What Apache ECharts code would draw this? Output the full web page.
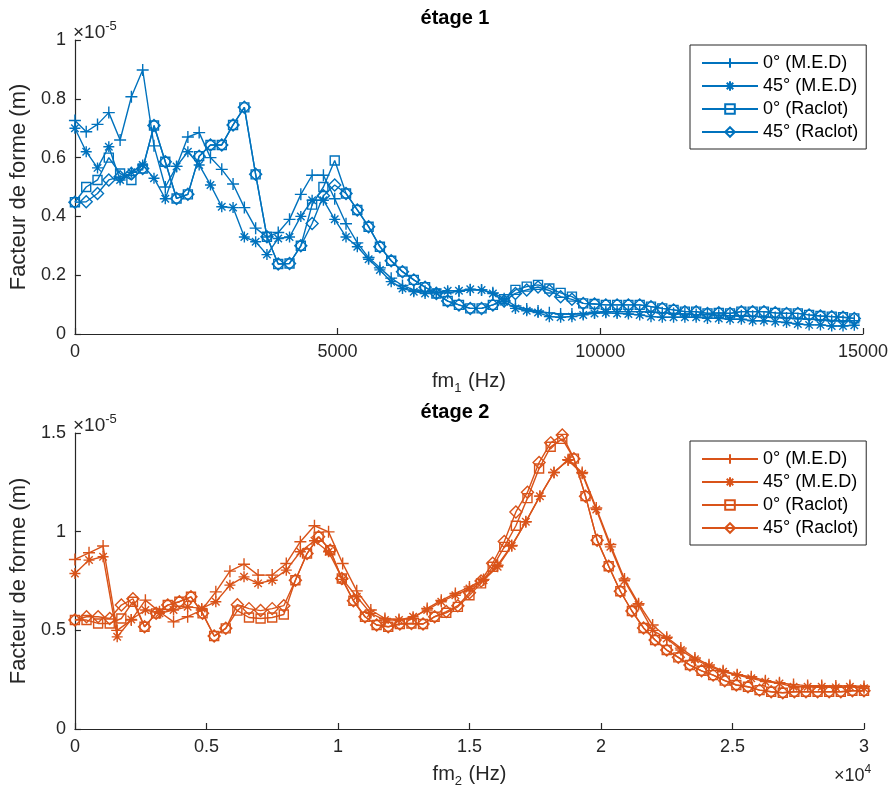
<!DOCTYPE html>
<html><head><meta charset="utf-8">
<script src="https://cdn.jsdelivr.net/npm/echarts@6/dist/echarts.min.js"></script>
<style>html,body{margin:0;padding:0;background:#fff}#c{width:891px;height:796px}</style>
</head><body><div id="c"></div>
<script>
// ---------- DATA (amplitudes in units of 1e-5 m) ----------
const xTop = [0,215,430,645,860,1075,1290,1505,1720,1935,2150,2365,2580,2795,3010,3225,3440,3655,3870,4085,4300,4515,4730,4945,5160,5375,5590,5805,6020,6235,6450,6665,6880,7095,7310,7525,7740,7955,8170,8385,8600,8815,9030,9245,9460,9675,9890,10105,10320,10535,10750,10965,11180,11395,11610,11825,12040,12255,12470,12685,12900,13115,13330,13545,13760,13975,14190,14405,14620,14835];

const top_0_MED = [0.726,0.688,0.713,0.753,0.66,0.807,0.898,0.64,0.50,0.57,
 0.67,0.685,0.60,0.56,0.51,0.43,0.36,0.33,0.345,0.39,
 0.475,0.54,0.54,0.46,0.375,0.31,0.26,0.225,0.19,0.165,
 0.15,0.145,0.14,0.14,0.145,0.15,0.15,0.14,0.12,0.095,
 0.085,0.078,0.072,0.068,0.068,0.07,0.074,0.076,0.076,0.076,
 0.076,0.074,0.072,0.07,0.068,0.066,0.066,0.064,0.062,0.062,
 0.06,0.058,0.056,0.054,0.052,0.05,0.048,0.046,0.045,0.045];

const top_45_MED = [0.70,0.62,0.565,0.637,0.524,0.55,0.575,0.53,0.46,0.57,
 0.62,0.575,0.507,0.433,0.43,0.33,0.314,0.27,0.325,0.33,
 0.40,0.455,0.455,0.39,0.33,0.297,0.254,0.218,0.178,0.155,
 0.144,0.138,0.141,0.147,0.147,0.152,0.15,0.138,0.11,0.087,
 0.079,0.073,0.059,0.057,0.059,0.065,0.07,0.072,0.07,0.068,
 0.065,0.059,0.057,0.057,0.057,0.057,0.053,0.053,0.05,0.05,
 0.045,0.045,0.042,0.039,0.034,0.031,0.031,0.027,0.027,0.03];

const top_0_Raclot = [0.448,0.50,0.524,0.60,0.546,0.524,0.563,0.709,0.586,0.461,
 0.475,0.605,0.643,0.643,0.711,0.771,0.543,0.331,0.238,0.24,
 0.30,0.44,0.50,0.59,0.478,0.422,0.365,0.297,0.249,0.212,
 0.184,0.159,0.138,0.112,0.099,0.087,0.087,0.099,0.118,0.15,
 0.161,0.167,0.155,0.14,0.127,0.104,0.102,0.099,0.099,0.099,
 0.099,0.093,0.087,0.082,0.076,0.076,0.07,0.072,0.07,0.076,
 0.076,0.076,0.072,0.07,0.07,0.065,0.061,0.059,0.057,0.053];

const top_45_Raclot = [0.448,0.45,0.478,0.524,0.535,0.546,0.563,0.709,0.586,0.461,
 0.475,0.605,0.643,0.643,0.711,0.771,0.543,0.331,0.238,0.24,
 0.30,0.376,0.47,0.507,0.478,0.422,0.365,0.297,0.249,0.212,
 0.184,0.159,0.138,0.112,0.099,0.087,0.087,0.099,0.112,0.138,
 0.15,0.16,0.148,0.127,0.118,0.104,0.102,0.099,0.099,0.099,
 0.099,0.093,0.087,0.082,0.076,0.076,0.07,0.072,0.07,0.076,
 0.076,0.076,0.072,0.07,0.07,0.065,0.061,0.059,0.057,0.053];

const xBotMED = [0,536,1071,1607,2143,2679,3214,3750,4286,4821,5357,5893,6429,6964,7500,8036,8571,9107,9643,10179,10714,11250,11786,12321,12857,13393,13929,14464,15000,15536,16071,16607,17143,17679,18214,18750,19286,19821,20357,20893,21429,21964,22500,23036,23571,24107,24643,25179,25714,26250,26786,27321,27857,28393,28929,29464,30000];

const xBotRaclot = [0,441,882,1324,1765,2206,2647,3088,3529,3971,4412,4853,5294,5735,6176,6618,7059,7500,7941,8382,8824,9265,9706,10147,10588,11029,11471,11912,12353,12794,13235,13676,14118,14559,15000,15441,15882,16324,16765,17206,17647,18088,18529,18971,19412,19853,20294,20735,21176,21618,22059,22500,22941,23382,23824,24265,24706,25147,25588,26029,26471,26912,27353,27794,28235,28676,29118,29559,30000];

const bot_0_MED = [0.859,0.893,0.927,0.50,0.552,0.653,0.594,0.543,0.569,0.603,
 0.695,0.80,0.835,0.78,0.78,0.839,0.949,1.03,0.999,0.839,
 0.70,0.603,0.56,0.555,0.56,0.611,0.652,0.687,0.72,0.758,
 0.83,0.93,1.05,1.18,1.30,1.365,1.30,1.12,0.935,0.76,
 0.635,0.527,0.465,0.41,0.36,0.325,0.295,0.275,0.265,0.245,
 0.235,0.225,0.22,0.22,0.218,0.22,0.215];

const bot_45_MED = [0.788,0.856,0.873,0.467,0.555,0.603,0.586,0.603,0.619,0.611,
 0.645,0.729,0.771,0.738,0.754,0.805,0.898,0.954,0.898,0.758,
 0.67,0.586,0.552,0.552,0.569,0.603,0.645,0.678,0.712,0.754,
 0.822,0.927,1.05,1.18,1.30,1.362,1.294,1.112,0.923,0.751,
 0.628,0.50,0.459,0.40,0.353,0.319,0.29,0.273,0.257,0.24,
 0.231,0.214,0.214,0.214,0.211,0.214,0.206];

const bot_0_Raclot = [0.552,0.552,0.535,0.535,0.56,0.645,0.518,0.586,0.628,0.645,
 0.67,0.586,0.471,0.51,0.60,0.565,0.56,0.565,0.58,0.754,
 0.889,0.974,0.906,0.763,0.65,0.569,0.527,0.518,0.532,0.535,
 0.532,0.569,0.589,0.619,0.678,0.738,0.822,0.923,1.03,1.17,
 1.32,1.43,1.47,1.37,1.18,0.957,0.825,0.698,0.598,0.512,
 0.451,0.40,0.363,0.324,0.295,0.273,0.245,0.223,0.214,0.197,
 0.189,0.184,0.189,0.189,0.189,0.189,0.189,0.194,0.194];

const bot_45_Raclot = [0.552,0.569,0.569,0.56,0.628,0.66,0.518,0.586,0.628,0.645,
 0.67,0.586,0.471,0.51,0.63,0.61,0.60,0.61,0.625,0.754,
 0.889,0.974,0.906,0.763,0.65,0.569,0.527,0.518,0.532,0.535,
 0.532,0.569,0.595,0.625,0.69,0.75,0.84,0.95,1.10,1.20,
 1.35,1.45,1.49,1.37,1.18,0.957,0.825,0.698,0.598,0.512,
 0.451,0.40,0.363,0.324,0.295,0.273,0.245,0.223,0.214,0.197,
 0.189,0.184,0.189,0.189,0.189,0.189,0.189,0.194,0.194];

const legendNames = ['0° (M.E.D)', '45° (M.E.D)', '0° (Raclot)', '45° (Raclot)'];
const topTicksX = [0, 5000, 10000, 15000];
const botTicksX = [0, 0.5, 1, 1.5, 2, 2.5, 3];

// ---------- STYLE ----------
const BLUE = '#0072BD', ORANGE = '#D95319', AX = '#262626';
const FONT = '"Liberation Sans", Arial, Helvetica, sans-serif';
const SYM_PLUS = 'path://M5,0L5,10M0,5L10,5';
const SYM_STAR = 'path://M5,0L5,10M0,5L10,5M1.6,1.6L8.4,8.4M1.6,8.4L8.4,1.6';
const symbols = [SYM_PLUS, SYM_STAR, 'rect', 'diamond'];
const sizes = [12, 11, 9, 12];

function pairs(xs, ys) { return xs.map((x, i) => [x, ys[i]]); }
function mk(name, xs, ys, color, k, gi) {
  return {
    name, type: 'line', xAxisIndex: gi, yAxisIndex: gi,
    data: pairs(xs, ys), symbol: symbols[k], symbolSize: sizes[k], symbolKeepAspect: true,
    showAllSymbol: true, animation: false, silent: true,
    lineStyle: { color, width: 1.4 },
    itemStyle: { color: 'rgba(255,255,255,0)', borderColor: color, borderWidth: 1.4 },
    emphasis: { disabled: true }
  };
}
const sp = ' '; // suffix to keep bottom-plot series distinct for the second legend
const series = [
  mk(legendNames[0], xTop, top_0_MED, BLUE, 0, 0),
  mk(legendNames[1], xTop, top_45_MED, BLUE, 1, 0),
  mk(legendNames[2], xTop, top_0_Raclot, BLUE, 2, 0),
  mk(legendNames[3], xTop, top_45_Raclot, BLUE, 3, 0),
  mk(legendNames[0] + sp, xBotMED, bot_0_MED, ORANGE, 0, 1),
  mk(legendNames[1] + sp, xBotMED, bot_45_MED, ORANGE, 1, 1),
  mk(legendNames[2] + sp, xBotRaclot, bot_0_Raclot, ORANGE, 2, 1),
  mk(legendNames[3] + sp, xBotRaclot, bot_45_Raclot, ORANGE, 3, 1)
];

const axisCommon = {
  axisLine: { show: true, lineStyle: { color: AX, width: 1.2 } },
  axisTick: { show: true, inside: true, length: 6, lineStyle: { color: AX, width: 1.2 } },
  splitLine: { show: false },
  axisLabel: { fontFamily: FONT, fontSize: 18, color: AX, margin: 9 },
  nameTextStyle: { fontFamily: FONT, fontSize: 21, color: AX }
};
const fmt = v => String(parseFloat(v.toFixed(3)));

function legend(top, names) {
  return {
    left: 690, top, orient: 'vertical', data: names, selectedMode: false,
    itemWidth: 56, itemHeight: 12, itemGap: 5, padding: [9, 8, 8, 11],
    borderColor: AX, borderWidth: 1, backgroundColor: '#fff',
    formatter: n => n.trim(),
    textStyle: { fontFamily: FONT, fontSize: 18, color: '#000', lineHeight: 18 }
  };
}

const chart = echarts.init(document.getElementById('c'));
chart.setOption({
  backgroundColor: '#fff',
  animation: false,
  grid: [
    { left: 71, top: 40, width: 793, height: 294 },
    { left: 71, top: 433, width: 793, height: 296 }
  ],
  xAxis: [
    Object.assign({}, axisCommon, {
      type: 'value', gridIndex: 0, min: topTicksX[0], max: topTicksX[topTicksX.length - 1], interval: 5000,
      name: '{a|fm}{s|1}{a| (Hz)}', nameLocation: 'middle', nameGap: 34,
      nameTextStyle: { rich: { a: { fontFamily: FONT, fontSize: 20, color: AX }, s: { fontFamily: FONT, fontSize: 13, color: AX, padding: [14, 1, 0, 0] } } },
      axisLabel: Object.assign({}, axisCommon.axisLabel, { formatter: fmt })
    }),
    Object.assign({}, axisCommon, {
      type: 'value', gridIndex: 1, min: 0, max: 30000, interval: 5000,
      name: '{a|fm}{s|2}{a| (Hz)}', nameLocation: 'middle', nameGap: 32,
      nameTextStyle: { rich: { a: { fontFamily: FONT, fontSize: 20, color: AX }, s: { fontFamily: FONT, fontSize: 13, color: AX, padding: [14, 1, 0, 0] } } },
      axisLabel: Object.assign({}, axisCommon.axisLabel, { formatter: v => fmt(v / 10000) })
    })
  ],
  yAxis: [
    Object.assign({}, axisCommon, {
      type: 'value', gridIndex: 0, min: 0, max: 1, interval: 0.2,
      name: 'Facteur de forme (m)', nameLocation: 'middle', nameGap: 38,
      nameTextStyle: { fontFamily: FONT, fontSize: 22, color: AX },
      axisLabel: Object.assign({}, axisCommon.axisLabel, { formatter: fmt })
    }),
    Object.assign({}, axisCommon, {
      type: 'value', gridIndex: 1, min: 0, max: 1.5, interval: 0.5,
      name: 'Facteur de forme (m)', nameLocation: 'middle', nameGap: 38,
      nameTextStyle: { fontFamily: FONT, fontSize: 22, color: AX },
      axisLabel: Object.assign({}, axisCommon.axisLabel, { formatter: fmt })
    })
  ],
  legend: [
    legend(45, legendNames),
    legend(441, legendNames.map(n => n + sp))
  ],
  graphic: [
    { type: 'text', x: 455, y: 18, style: { text: 'étage 1', font: 'bold 20px ' + FONT, fill: '#000', textAlign: 'center', textVerticalAlign: 'middle' } },
    { type: 'text', x: 455, y: 412, style: { text: 'étage 2', font: 'bold 20px ' + FONT, fill: '#000', textAlign: 'center', textVerticalAlign: 'middle' } },
    { type: 'text', x: 73, y: 20, style: { text: '{a|×10}{b|-5}', rich: { a: { fontFamily: FONT, fontSize: 19, fill: AX }, b: { fontFamily: FONT, fontSize: 13, fill: AX, padding: [0, 0, 12, 0] } } } },
    { type: 'text', x: 73, y: 413, style: { text: '{a|×10}{b|-5}', rich: { a: { fontFamily: FONT, fontSize: 19, fill: AX }, b: { fontFamily: FONT, fontSize: 13, fill: AX, padding: [0, 0, 12, 0] } } } },
    { type: 'text', x: 834, y: 764, style: { text: '{a|×10}{b|4}', rich: { a: { fontFamily: FONT, fontSize: 18, fill: AX }, b: { fontFamily: FONT, fontSize: 12, fill: AX, padding: [0, 0, 12, 0] } } } }
  ],
  series
});
</script></body></html>
